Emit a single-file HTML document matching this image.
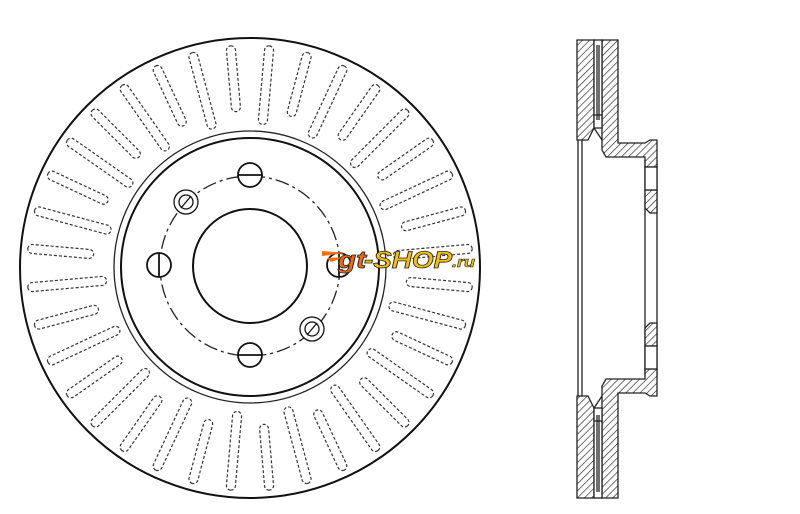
<!DOCTYPE html>
<html><head><meta charset="utf-8"><style>
html,body{margin:0;padding:0;background:#fff;}
svg{display:block;}
</style></head><body>
<svg width="800" height="514" viewBox="0 0 800 514" xmlns="http://www.w3.org/2000/svg">
<defs>
<pattern id="h" patternUnits="userSpaceOnUse" width="5" height="5" patternTransform="rotate(45)">
<rect width="5" height="5" fill="#fff"/>
<line x1="0" y1="0" x2="0" y2="5" stroke="#222" stroke-width="1.3"/>
</pattern>
<rect id="L" x="245.5" y="45" width="9" height="79" rx="4.5" fill="none" stroke="#333" stroke-width="1.2" stroke-dasharray="3,2"/>
<rect id="S" x="245.5" y="45" width="9" height="66" rx="4.5" fill="none" stroke="#333" stroke-width="1.2" stroke-dasharray="3,2"/>
</defs>
<circle cx="250" cy="268" r="230" fill="none" stroke="#111" stroke-width="2"/>
<g>
<use href="#L" transform="rotate(5 250 268)"/>
<use href="#S" transform="rotate(15 250 268)"/>
<use href="#L" transform="rotate(25 250 268)"/>
<use href="#S" transform="rotate(35 250 268)"/>
<use href="#L" transform="rotate(45 250 268)"/>
<use href="#S" transform="rotate(55 250 268)"/>
<use href="#L" transform="rotate(65 250 268)"/>
<use href="#S" transform="rotate(75 250 268)"/>
<use href="#L" transform="rotate(85 250 268)"/>
<use href="#S" transform="rotate(95 250 268)"/>
<use href="#L" transform="rotate(105 250 268)"/>
<use href="#S" transform="rotate(115 250 268)"/>
<use href="#L" transform="rotate(125 250 268)"/>
<use href="#S" transform="rotate(135 250 268)"/>
<use href="#L" transform="rotate(145 250 268)"/>
<use href="#S" transform="rotate(155 250 268)"/>
<use href="#L" transform="rotate(165 250 268)"/>
<use href="#S" transform="rotate(175 250 268)"/>
<use href="#L" transform="rotate(185 250 268)"/>
<use href="#S" transform="rotate(195 250 268)"/>
<use href="#L" transform="rotate(205 250 268)"/>
<use href="#S" transform="rotate(215 250 268)"/>
<use href="#L" transform="rotate(225 250 268)"/>
<use href="#S" transform="rotate(235 250 268)"/>
<use href="#L" transform="rotate(245 250 268)"/>
<use href="#S" transform="rotate(255 250 268)"/>
<use href="#L" transform="rotate(265 250 268)"/>
<use href="#S" transform="rotate(275 250 268)"/>
<use href="#L" transform="rotate(285 250 268)"/>
<use href="#S" transform="rotate(295 250 268)"/>
<use href="#L" transform="rotate(305 250 268)"/>
<use href="#S" transform="rotate(315 250 268)"/>
<use href="#L" transform="rotate(325 250 268)"/>
<use href="#S" transform="rotate(335 250 268)"/>
<use href="#L" transform="rotate(345 250 268)"/>
<use href="#S" transform="rotate(355 250 268)"/>
</g>
<circle cx="250" cy="267" r="136" fill="#fff" stroke="#222" stroke-width="1.3"/>
<circle cx="250" cy="267" r="129" fill="none" stroke="#111" stroke-width="2"/>
<circle cx="250" cy="266" r="90" fill="none" stroke="#222" stroke-width="1.3" stroke-dasharray="14,4,3,4"/>
<circle cx="250" cy="266" r="57" fill="#fff" stroke="#111" stroke-width="2"/>
<g fill="#fff" stroke="#111" stroke-width="1.8">
<circle cx="250" cy="175" r="12"/><line x1="238" y1="175" x2="262" y2="175"/>
<circle cx="250" cy="355" r="12"/><line x1="238" y1="355" x2="262" y2="355"/>
<circle cx="159" cy="265" r="12"/><line x1="159" y1="253" x2="159" y2="277"/>
<circle cx="339" cy="265" r="12"/><line x1="339" y1="253" x2="339" y2="277"/>
</g>
<g fill="#fff" stroke="#111" stroke-width="1.3">
<circle cx="186" cy="202" r="12"/><circle cx="186" cy="202" r="7"/><line x1="181" y1="208" x2="191" y2="196"/>
<circle cx="312" cy="329" r="12"/><circle cx="312" cy="329" r="7"/><line x1="307" y1="335" x2="317" y2="323"/>
</g>
<!-- logo -->
<g font-family="Liberation Sans, sans-serif" font-weight="bold" font-style="italic">
<path d="M322 251 L346 253 L322 256 Z M327 258 L346 257 L331 262 Z" fill="#f07010"/>
<text x="338" y="268" font-size="24" fill="#f26a10" stroke="#222" stroke-width="0.8" textLength="28" lengthAdjust="spacingAndGlyphs">gt</text>
<text x="364" y="268" font-size="24" fill="#f8c000" stroke="#222" stroke-width="0.8" textLength="88" lengthAdjust="spacingAndGlyphs">-SHOP</text>
<text x="452" y="267" font-size="15" fill="#f8c000" stroke="#222" stroke-width="0.6" textLength="23" lengthAdjust="spacingAndGlyphs">.ru</text>
</g>
<!-- side section -->
<g stroke="#222" stroke-width="1.3">
<line x1="578" y1="135" x2="578" y2="400" />
<line x1="582" y1="135" x2="582" y2="400" />
<line x1="645" y1="160" x2="645" y2="376" />
<line x1="657" y1="160" x2="657" y2="376" />
<g fill="url(#h)">
<polygon points="577,40 594,40 594,128 588,140 577,140"/>
<polygon points="602,40 618,40 618,143 645,143 650,140 657,140 657,167 645,167 645,157 606,157 602,150"/>
<polygon points="645,190 657,190 657,213 650,213 645,208"/>
<polygon points="577,498 594,498 594,408 588,396 577,396"/>
<polygon points="602,498 618,498 618,393 645,393 650,396 657,396 657,369 645,369 645,379 606,379 602,386"/>
<polygon points="645,346 657,346 657,323 650,323 645,328"/>
</g>
<g fill="#fff">
<rect x="594" y="40" width="8" height="88"/>
<rect x="594" y="408" width="8" height="90"/>
<rect x="645" y="167" width="12" height="23"/>
<rect x="645" y="346" width="12" height="23"/>
</g>
<line x1="597" y1="45" x2="597" y2="120"/><line x1="599" y1="45" x2="599" y2="120"/>
<line x1="597" y1="415" x2="597" y2="492"/><line x1="599" y1="415" x2="599" y2="492"/>
<line x1="594" y1="115" x2="602" y2="115"/><line x1="594" y1="421" x2="602" y2="421"/>
<line x1="594" y1="128" x2="602" y2="140"/><line x1="594" y1="408" x2="602" y2="396"/>
</g>
</svg>
</body></html>
